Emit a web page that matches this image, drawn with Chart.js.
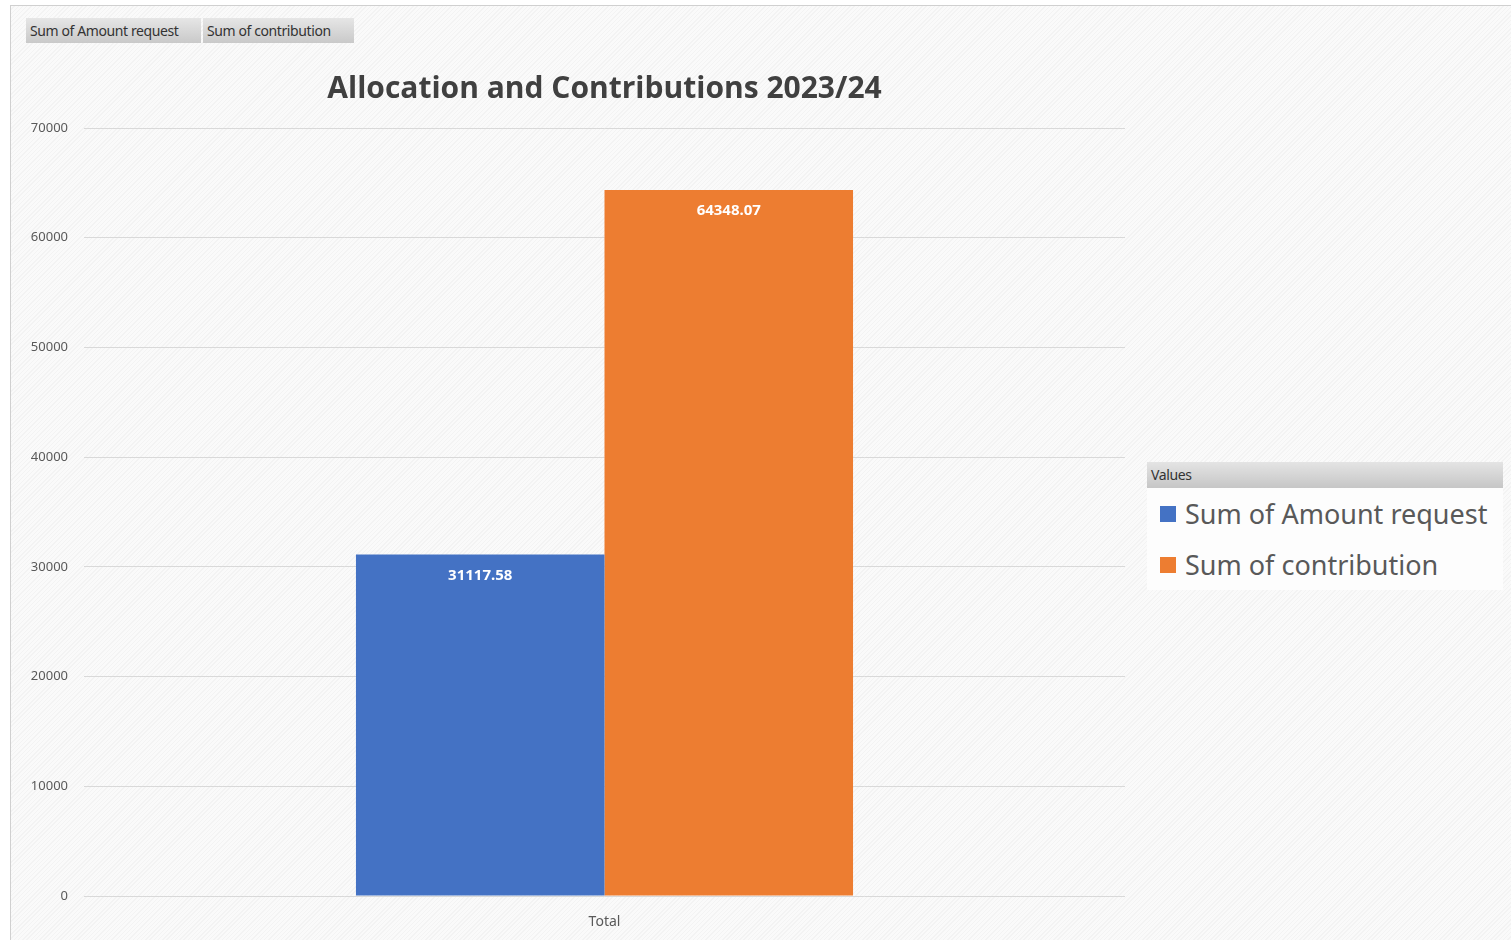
<!DOCTYPE html>
<html>
<head>
<meta charset="utf-8">
<script src="https://cdn.jsdelivr.net/npm/chart.js@4/dist/chart.umd.min.js"></script>
<style>
  html,body{margin:0;padding:0;width:1511px;height:940px;overflow:hidden;background:#fff;font-family:"Noto Sans","Open Sans",sans-serif;}
  #frame{position:absolute;left:10px;top:5px;width:1501px;height:935px;border-left:1px solid #d0d0d0;border-top:1px solid #d0d0d0;
    background:repeating-linear-gradient(135deg,#fafafa 0px,#fafafa 2px,#f3f3f3 2px,#f3f3f3 3px);}
  #wrap{position:absolute;left:0;top:0;width:1511px;height:940px;}
  .btn{position:absolute;top:18px;height:25px;line-height:25px;font-size:14px;color:#333;padding:0 0 0 4px;box-sizing:border-box;
    background:linear-gradient(#e6e6e6,#c9c9c9);letter-spacing:-0.4px;}
  #legend{position:absolute;left:1147px;top:462px;width:356px;height:128px;background:#fdfdfd;}
  #legend .hdr{height:26px;line-height:26px;font-size:14px;color:#333;padding-left:4px;background:linear-gradient(#e4e4e4,#c6c6c6);letter-spacing:-0.4px;}
  #legend .item{position:absolute;left:13px;font-size:27px;color:#595959;white-space:nowrap;}
  #legend .sw{display:inline-block;width:16px;height:16px;margin-right:9px;vertical-align:middle;position:relative;top:-3px;}
</style>
</head>
<body>
<div id="frame"></div>
<div id="wrap"><canvas id="c" width="1511" height="940"></canvas></div>
<div class="btn" id="b0" style="left:26px;width:175px;"></div>
<div class="btn" id="b1" style="left:203px;width:151px;"></div>
<div id="legend"><div class="hdr">Values</div></div>
<script>
const categories = ["Total"];
const seriesNames = ["Sum of Amount request", "Sum of contribution"];
const amountRequest = [31117.58];
const contribution = [64348.07];
const yTicks = [0, 10000, 20000, 30000, 40000, 50000, 60000, 70000];
const colors = ["#4472C4", "#ED7D31"];
const titleText = "Allocation and Contributions 2023/24";

document.getElementById('b0').textContent = seriesNames[0];
document.getElementById('b1').textContent = seriesNames[1];
const lg = document.getElementById('legend');
seriesNames.forEach((n, i) => {
  const d = document.createElement('div');
  d.className = 'item';
  d.style.top = (33 + i * 51) + 'px';
  d.innerHTML = '<span class="sw" style="background:' + colors[i] + '"></span>' + n;
  lg.appendChild(d);
});

const labelPlugin = {
  id: 'barLabels',
  afterDatasetsDraw(chart) {
    const ctx = chart.ctx;
    ctx.save();
    ctx.font = 'bold 15px "Noto Sans", sans-serif';
    ctx.fillStyle = '#ffffff';
    ctx.textAlign = 'center';
    ctx.textBaseline = 'middle';
    chart.data.datasets.forEach((ds, di) => {
      chart.getDatasetMeta(di).data.forEach((bar, i) => {
        ctx.fillText(ds.data[i].toFixed(2), bar.x, bar.y + 21);
      });
    });
    ctx.restore();
  }
};

new Chart(document.getElementById('c'), {
  type: 'bar',
  data: {
    labels: categories,
    datasets: [
      { label: seriesNames[0], data: amountRequest, backgroundColor: colors[0] },
      { label: seriesNames[1], data: contribution, backgroundColor: colors[1] }
    ]
  },
  options: {
    responsive: false,
    animation: false,
    layout: { padding: { left: 0, right: 386, top: 71, bottom: 0 } },
    datasets: { bar: { categoryPercentage: 0.4775, barPercentage: 1.0 } },
    plugins: {
      legend: { display: false },
      tooltip: { enabled: false },
      title: {
        display: true, text: titleText, fullSize: false,
        color: '#404040',
        font: { family: '"Open Sans", sans-serif', size: 30, weight: '700' },
        padding: { top: 0, bottom: 21 }
      }
    },
    scales: {
      x: {
        grid: { display: false },
        border: { display: false },
        ticks: { color: '#595959', font: { family: '"Noto Sans", sans-serif', size: 14 }, padding: 10 },
        afterFit(s) { s.height = 44; }
      },
      y: {
        min: 0, max: 70000,
        afterBuildTicks(s) { s.ticks = yTicks.map(v => ({ value: v })); },
        grid: { color: '#d9d9d9', lineWidth: 1, drawTicks: false },
        border: { display: false },
        ticks: { color: '#595959', font: { family: '"Noto Sans", sans-serif', size: 13 }, padding: 16,
                 callback: v => String(v) },
        afterFit(s) { s.width = 84; }
      }
    }
  },
  plugins: [labelPlugin]
});
</script>
</body>
</html>
